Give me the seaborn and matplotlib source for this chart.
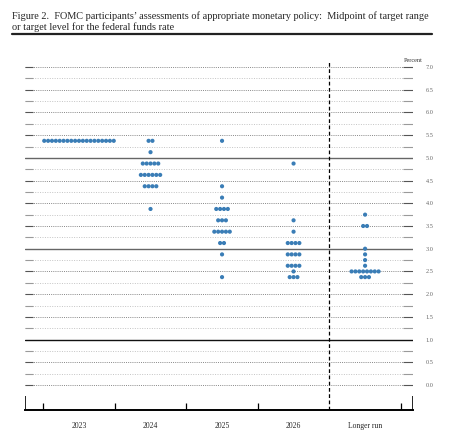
import numpy as np
import pandas as pd
import seaborn as sns
import matplotlib.pyplot as plt

# columns of the dot plot
columns = ['2023', '2024', '2025', '2026', 'Longer run']

# midpoint levels (percent) and number of participants at each level
levels_2023 = [5.375]
counts_2023 = [19]
levels_2024 = [5.375, 5.125, 4.875, 4.625, 4.375, 3.875]
counts_2024 = [2, 1, 5, 6, 4, 1]
levels_2025 = [5.375, 4.375, 4.125, 3.875, 3.625, 3.375, 3.125, 2.875, 2.375]
counts_2025 = [1, 1, 1, 4, 3, 5, 2, 1, 1]
levels_2026 = [4.875, 3.625, 3.375, 3.125, 2.875, 2.625, 2.5, 2.375]
counts_2026 = [1, 1, 1, 4, 4, 4, 1, 3]
levels_lr = [3.75, 3.5, 3.0, 2.875, 2.75, 2.625, 2.5, 2.375]
counts_lr = [1, 2, 1, 1, 1, 1, 8, 3]

ytick_vals = np.arange(0, 7.01, 0.5)

all_levels = [levels_2023, levels_2024, levels_2025, levels_2026, levels_lr]
all_counts = [counts_2023, counts_2024, counts_2025, counts_2026, counts_lr]

# spread the dots horizontally around the column centre
step = 0.054
rows = []
for i, (lv, ct) in enumerate(zip(all_levels, all_counts)):
    for v, n in zip(lv, ct):
        offs = (np.arange(n) - (n - 1) / 2) * step
        for o in offs:
            rows.append({'x': i + o, 'rate': v, 'col': columns[i]})
df = pd.DataFrame(rows)

sns.set_style("white")
plt.rcParams['font.family'] = ['Liberation Serif', 'DejaVu Serif']

fig = plt.figure(figsize=(4.5, 4.43), dpi=100)
ax = fig.add_axes([25 / 450, 1 - 410 / 443, (413 - 25) / 450, (410 - 62) / 443])

x0, x1 = -0.755, 4.67
y0, y1 = -0.55, 7.11
ax.set_xlim(x0, x1)
ax.set_ylim(y0, y1)

# horizontal guide lines
tick_len = 10 / 71.5
for k in range(29):
    y = k * 0.25
    if k in (4, 12, 20):
        ax.axhline(y, color='#666666' if k != 4 else '#111111', lw=1.0, zorder=1)
        continue
    if k % 2 == 0:
        ax.hlines(y, x0, x1, color='#888888', lw=0.7, linestyles=(0, (1, 1.2)), zorder=1)
        c_end = '#555555'
    else:
        ax.hlines(y, x0, x1, color='#c4c4c4', lw=0.7, linestyles=(0, (1, 1.5)), zorder=1)
        c_end = '#9a9a9a'
    ax.hlines(y, x0, x0 + tick_len * 0.8, color=c_end, lw=0.8, zorder=1)
    ax.hlines(y, x1 - tick_len, x1, color=c_end, lw=0.8, zorder=1)

# separator before longer run
ax.vlines(3.5, y0, y1, color='black', lw=0.9, linestyles=(0, (3, 2)), zorder=1)

sns.scatterplot(data=df, x='x', y='rate', color='#3a7db6', s=9, edgecolor='none',
                ax=ax, zorder=3, legend=False)

# bottom axis with upward ticks
for s in ['top', 'left', 'right']:
    ax.spines[s].set_visible(False)
ax.spines['bottom'].set_linewidth(1.4)
ax.spines['bottom'].set_color('black')
ax.vlines([x0 + 0.005, x1 - 0.005], y0, y0 + 0.3, color='black', lw=1.2)
ax.vlines([-0.5, 0.5, 1.5, 2.5, 4.5], y0, y0 + 0.16, color='black', lw=0.9)

ax.set_xticks(range(len(columns)))
ax.set_xticklabels(columns, fontsize=5.5)
ax.tick_params(axis='x', length=0, pad=9)

ax.yaxis.tick_right()
ax.set_yticks(ytick_vals)
ax.set_yticklabels([f'{v:.1f}' for v in ytick_vals], fontsize=4.5, color='#666666')
ax.tick_params(axis='y', length=0, pad=9)
ax.set_xlabel('')
ax.set_ylabel('')

fig.text(413 / 450, 1 - 60 / 443, 'Percent', fontsize=4.5, ha='center', va='center', color='#333333')

fig.text(12 / 450, 1 - 16 / 443,
         "Figure 2.  FOMC participants\u2019 assessments of appropriate monetary policy:  Midpoint of target range",
         fontsize=7.4, ha='left', va='center')
fig.text(12 / 450, 1 - 27 / 443, "or target level for the federal funds rate",
         fontsize=7.4, ha='left', va='center')
fig.add_artist(plt.Line2D([12 / 450, 432 / 450], [1 - 34 / 443, 1 - 34 / 443],
                          color='#222222', lw=1.6, transform=fig.transFigure))

fig.savefig('out.png', dpi=100)
